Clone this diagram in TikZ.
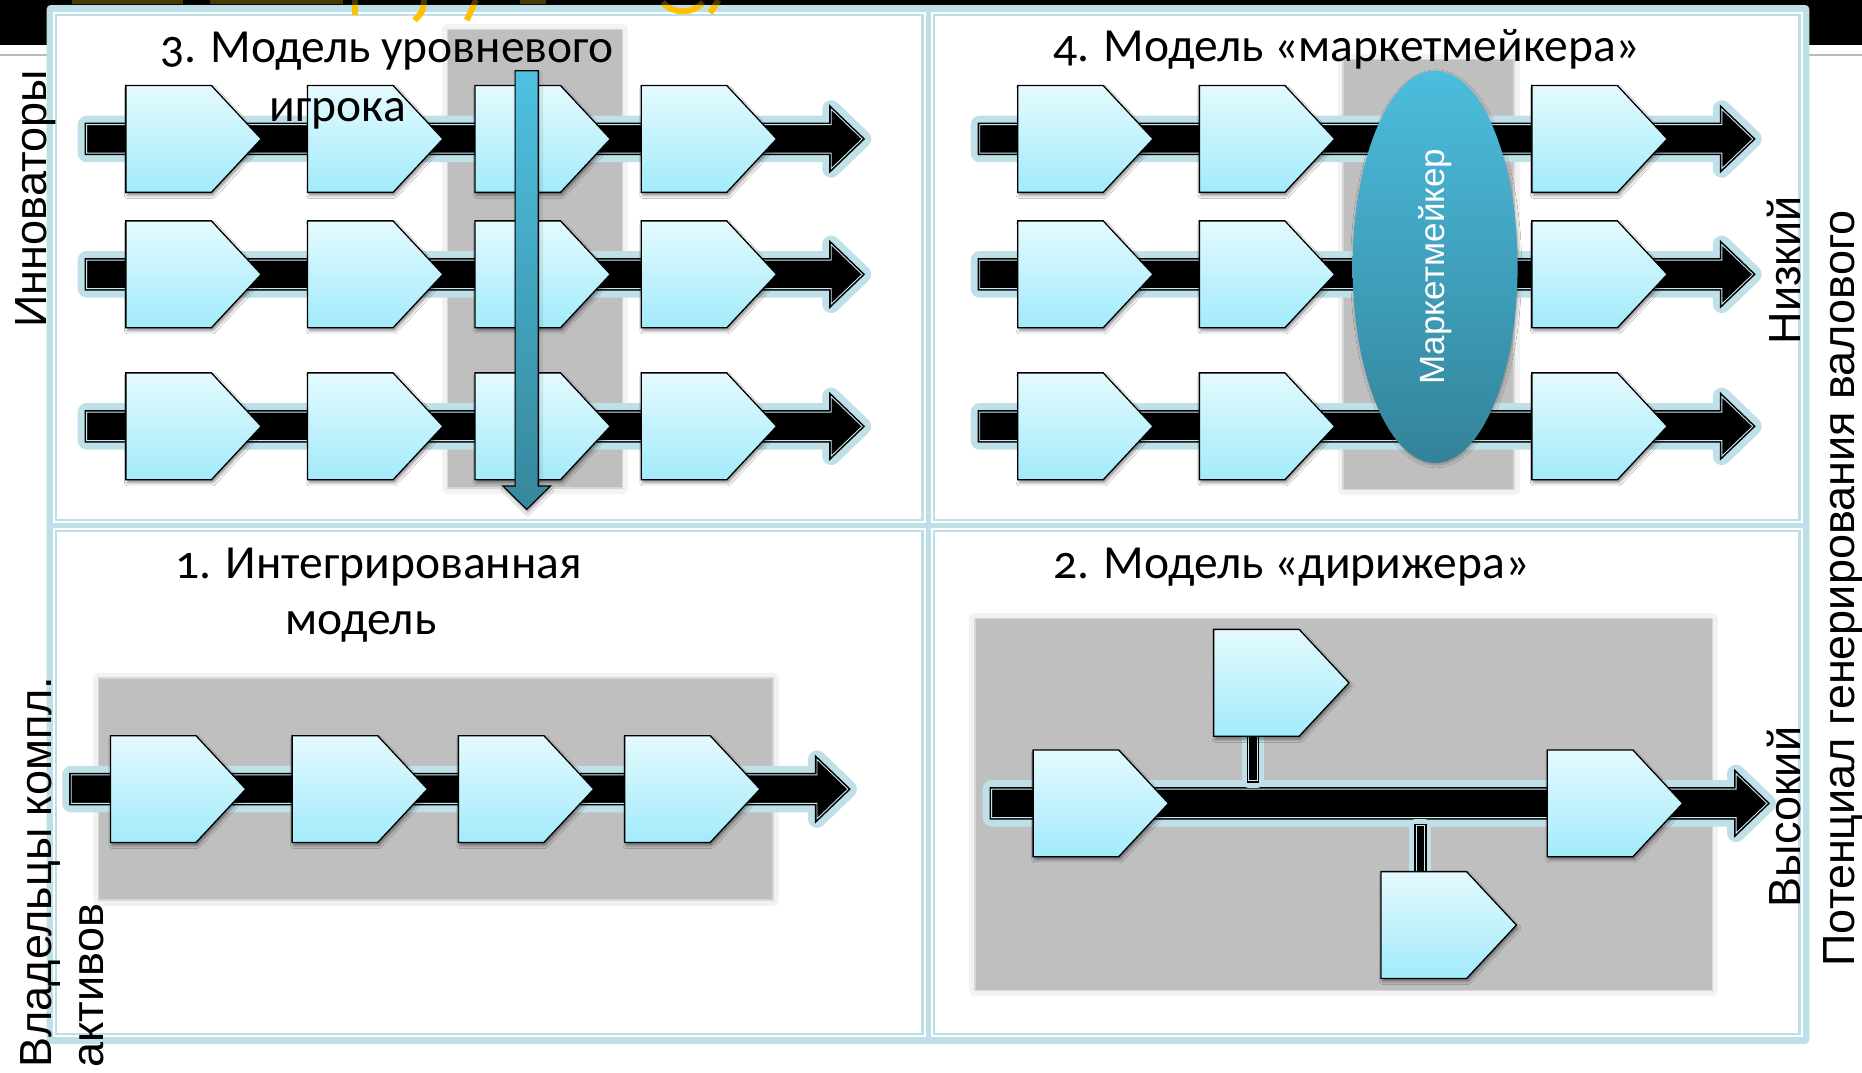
\documentclass[tikz,border=0pt]{standalone}
\usepackage{fontspec}
\setmainfont{Carlito}[Numbers=OldStyle]
\newfontfamily\sidefont{Liberation Sans}
\usetikzlibrary{shapes.geometric,shadows.blur}

\definecolor{framecol}{HTML}{BCDFE8}
\definecolor{glowcol}{HTML}{BFE0E8}
\definecolor{barline}{HTML}{CDE8EF}
\definecolor{chevtop}{HTML}{E4FAFE}
\definecolor{chevbot}{HTML}{A2EBFB}
\definecolor{boxgray}{HTML}{BFBFBF}
\definecolor{boxedge}{HTML}{F2F2F2}
\definecolor{boxline}{HTML}{D6D6D6}
\definecolor{lvtop}{HTML}{4FC1E1}
\definecolor{lvbot}{HTML}{36879C}
\definecolor{mmtop}{HTML}{4CBDDD}
\definecolor{mmbot}{HTML}{33839A}
\definecolor{titleylw}{HTML}{FFC000}

\tikzstyle{glow}=[draw=glowcol, line width=18pt, line join=round]
\tikzstyle{stemglow}=[draw=glowcol, line width=14pt, line join=round]
\tikzstyle{bar}=[fill=black, draw=black, double=barline, double distance=0.9pt, line width=1.6pt]
\tikzstyle{chev}=[draw=black, line width=1.3pt, top color=chevtop, bottom color=chevbot,
	blur shadow={shadow xshift=1.5pt, shadow yshift=-3pt, shadow blur radius=3pt, shadow opacity=45}]
\tikzstyle{lvarrow}=[draw=black, line width=1.2pt, top color=lvtop, bottom color=lvbot,
	blur shadow={shadow xshift=1pt, shadow yshift=-3pt, shadow blur radius=3pt, shadow opacity=40}]
\tikzstyle{graybox}=[fill=boxgray, draw=boxline, line width=1.5pt, preaction={draw=boxedge, line width=11pt, line join=round}]
\tikzstyle{heading}=[font=\fontsize{47.5}{57}\selectfont, anchor=base west, inner sep=0pt]
\tikzstyle{side}=[font=\sidefont\fontsize{45}{54}\selectfont, rotate=90, inner sep=0pt]
\tikzstyle{marketmaker}=[ellipse, minimum width=165pt, minimum height=392pt, inner sep=0pt,
	top color=mmtop, bottom color=mmbot, text=white, font=\sidefont\fontsize{35}{42}\selectfont,
	blur shadow={shadow xshift=1pt, shadow yshift=-2pt, shadow blur radius=3pt, shadow opacity=30}]
\tikzstyle{ylw}=[draw=titleylw, line width=6pt]

% chevron, left middle at coordinate #1
\newcommand{\chev}[1]{
	\draw[chev] (#1) ++(0,-45) -- ++(72,0) -- ++(42,45) -- ++(-42,45) -- ++(-72,0) -- cycle;
}
% flow arrow: name, tail x, tip x, y
\newcommand{\flow}[4]{
	\path[bar, preaction={glow}] (#2,{#4-12}) -- ({#3-26},{#4-12}) -- ({#3-26},{#4-25}) -- (#3,#4)
		-- ({#3-26},{#4+25}) -- ({#3-26},{#4+12}) -- (#2,{#4+12}) -- cycle;
	\coordinate (#1 top) at (#2,{#4-19});
	\coordinate (#1 bot) at (#2,{#4+19});
}
% small link bar between two coordinates
\newcommand{\stem}[2]{
	\path[bar, preaction={stemglow}] ([xshift=-4.2pt]#1) rectangle ([xshift=4.2pt]#2);
}

\begin{document}
\begin{tikzpicture}[x=1.1875pt, y=-1.1875pt]
\useasboundingbox (0,0) rectangle (1568,903);

% slide background
\fill[black] (0,0) rectangle (1568,38);
\draw[gray!55, line width=1.2pt] (0,46.3) -- (1568,46.3);
\fill[framecol, rounded corners=4pt] (39.3,4.2) rectangle (1523.6,879);
\foreach \xa/\ya/\xb/\yb in {44.5/9.8/779.5/440.5, 784/9.8/1518/440.5, 44.5/444.8/779.5/873.5, 784/444.8/1518/873.5} {
	\fill[white] (\xa,\ya) rectangle (\xb,\yb);
	\draw[framecol, line width=2.2pt] ({\xa+2.6},{\ya+2.6}) rectangle ({\xb-2.6},{\yb-2.6});
}

% cut title
\fill[titleylw] (61,0) rectangle (154,3.5);
\fill[titleylw] (177,0) rectangle (289,3.5);
\fill[titleylw] (438,0) rectangle (460,3.5);
\draw[ylw] (299,0) -- (299,12.6);
\draw[ylw] (357,0) .. controls (356,10) .. (349,17);
\draw[ylw] (401,0) -- (393,17);
\draw[ylw] (558,2) .. controls (566,12) and (584,12) .. (592,2);
\draw[ylw] (605,0) -- (598,11);
\fill[black, opacity=.7] (0,0) rectangle (1568,4.4);

% 3. layer player
\path[graybox] (377,24.7) rectangle (524,411);
\foreach \r/\y in {1/117,2/231,3/359} {
	\flow{lvrow\r}{73}{726}{\y}
	\foreach \x [count=\c] in {106,259,400,540} {
		\coordinate (lv\r\c) at (\x,\y);
		\chev{lv\r\c}
	}
}
\coordinate (lvtop) at (443.5,59.5);
\coordinate (lvtip) at (443.5,429);
\draw[lvarrow] (lvtop) ++(-9.7,0) -- ++(19.4,0) -- ++(0,349.8) -- ++(10.3,0) -- (lvtip)
	-- ++(-20,-19.7) -- ++(10.3,0) -- cycle;
\node[heading] (title3) at (135,53) {3. Модель уровневого};
\node[heading] (title3b) at (227,102.5) {игрока};

% 4. market maker
\path[graybox] (1131,50) rectangle (1275,412);
\foreach \r/\y in {1/117,2/231,3/359} {
	\flow{mkrow\r}{825}{1476}{\y}
	\foreach \x [count=\c] in {857,1010,1290} {
		\coordinate (mk\r\c) at (\x,\y);
		\chev{mk\r\c}
	}
}
\node[marketmaker] (mm) at (1208.5,224.7) {\rotatebox{90}{Маркетмейкер}};
\node[heading] (title4) at (887,52) {4. Модель «маркетмейкера»};

% 1. integrated model
\path[graybox] (83,571) rectangle (651,758);
\flow{inrow}{60}{714}{664.5}
\foreach \x [count=\c] in {93,246,386,526} {
	\coordinate (in\c) at (\x,664.5);
	\chev{in\c}
}
\node[heading] (title1) at (147.5,487) {1. Интегрированная};
\node[heading] (title1b) at (240,534) {модель};

% 2. orchestrator
\path[graybox] (821,521) rectangle (1442,834);
\flow{dir}{835}{1488}{676.5}
\coordinate (dup) at (1022,575);
\coordinate (ddn) at (1163,779);
\coordinate (dl) at (870,676.5);
\coordinate (dr) at (1303,676.5);
\coordinate (dup s) at ([shift={(33,45)}]dup);
\coordinate (ddn n) at ([shift={(33,-45)}]ddn);
\coordinate (dup e) at (dup s |- dir top);
\coordinate (ddn e) at (ddn n |- dir bot);
\stem{dup s}{dup e}
\stem{ddn e}{ddn n}
\foreach \d in {dl,dr,dup,ddn} {\chev{\d}}
\node[heading] (title2) at (887,487) {2. Модель «дирижера»};

% axis labels
\node[side, anchor=base] (innov) at (39,167.5) {Инноваторы};
\node[side, anchor=base west] (owners) at (43,899) {Владельцы компл.};
\node[side, anchor=base west] (owners2) at (87,899) {активов};
\node[side, anchor=base] (low) at (1516,227.5) {Низкий};
\node[side, anchor=base] (high) at (1516,688) {Высокий};
\node[side, anchor=base] (potential) at (1562,495.5) {Потенциал генерирования валового};
\end{tikzpicture}
\end{document}
